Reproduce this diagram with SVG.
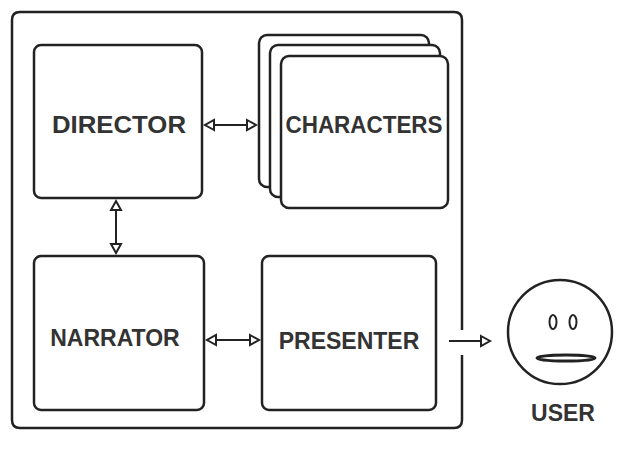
<svg xmlns="http://www.w3.org/2000/svg" width="640" height="460" viewBox="0 0 640 460">
<style>
.b{fill:#fff;stroke:#222;stroke-width:2.5}
.t{font-family:"Liberation Sans",Arial,sans-serif;font-weight:bold;font-size:23px;fill:#333;text-anchor:middle}
.c{stroke:#222;stroke-width:2;fill:none}
</style>
<defs>
<marker id="a" markerWidth="14" markerHeight="14" refX="11" refY="7" orient="auto-start-reverse" markerUnits="userSpaceOnUse">
<path d="M2,2 L11,7 L2,12 Z" fill="#fff" stroke="#222" stroke-width="2"/>
</marker>
</defs>
<rect width="640" height="460" fill="#fff"/>
<g id="frame"><path d="M462,330 V20 Q462,12 454,12 H20 Q12,12 12,20 V420 Q12,428 20,428 H454 Q462,428 462,420 V355" class="b" fill="none"/></g>
<g id="director"><rect class="b" x="34" y="45" width="168" height="153" rx="7"/><text class="t" x="119" y="133" textLength="134" lengthAdjust="spacingAndGlyphs">DIRECTOR</text></g>
<g id="characters">
<rect class="b" x="259" y="35" width="170" height="152" rx="8"/>
<rect class="b" x="270" y="45" width="170" height="152" rx="8"/>
<rect class="b" x="281" y="56" width="167" height="152" rx="8"/>
<text class="t" x="364" y="133" textLength="157" lengthAdjust="spacingAndGlyphs">CHARACTERS</text></g>
<g id="narrator"><rect class="b" x="34" y="256" width="170" height="154" rx="7"/><text class="t" x="115" y="346">NARRATOR</text></g>
<g id="presenter"><rect class="b" x="262" y="256" width="174" height="154" rx="7"/><text class="t" x="349" y="349">PRESENTER</text></g>
<g id="user">
<circle cx="560" cy="332" r="52" fill="#fff" stroke="#222" stroke-width="2.5"/>
<ellipse cx="553" cy="322" rx="3.5" ry="7" class="c"/>
<ellipse cx="573" cy="322" rx="3.5" ry="7" class="c"/>
<ellipse cx="566" cy="358" rx="29" ry="3" fill="#fff" stroke="#222" stroke-width="3"/>
<text class="t" x="563" y="421">USER</text></g>
<g id="connectors">
<line class="c" x1="205" y1="125" x2="256" y2="125" marker-start="url(#a)" marker-end="url(#a)"/>
<line class="c" x1="116" y1="201" x2="116" y2="253" marker-start="url(#a)" marker-end="url(#a)"/>
<line class="c" x1="207" y1="340" x2="259" y2="340" marker-start="url(#a)" marker-end="url(#a)"/>
<line class="c" x1="449" y1="341" x2="490" y2="341" marker-end="url(#a)"/>
</g>
</svg>
